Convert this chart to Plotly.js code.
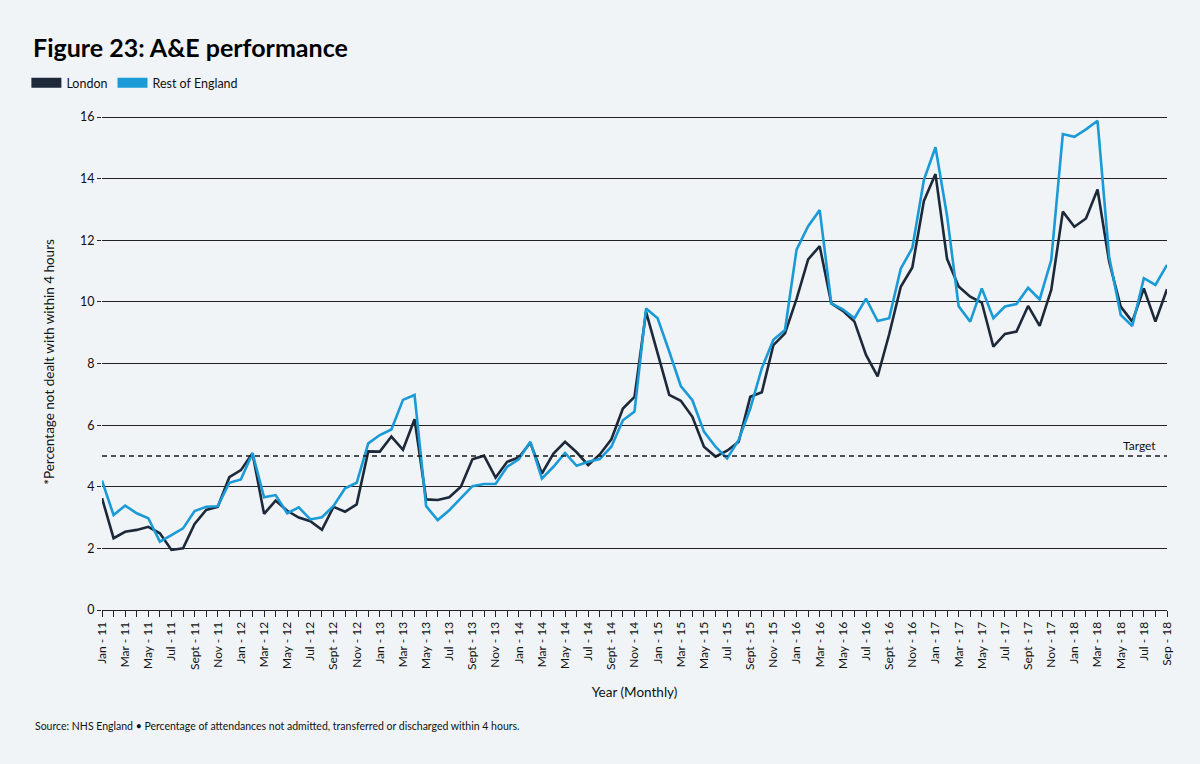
<!DOCTYPE html>
<html>
<head>
<meta charset="utf-8">
<script src="https://cdn.plot.ly/plotly-3.0.1.min.js"></script>
<style>
  html, body { margin: 0; padding: 0; background: #f0f4f7; }
  #chart { width: 1200px; height: 764px; }
</style>
</head>
<body>
<div id="chart"></div>
<script>
// Month names used for categories (Sept as in the source; final label is "Sep - 18")
var monthNames = ["Jan", "Feb", "Mar", "Apr", "May", "Jun", "Jul", "Aug", "Sept", "Oct", "Nov", "Dec"];
var startYear = 11;
var monthCount = 93; // Jan 2011 .. Sep 2018

var london = [
  3.63, 2.33, 2.54, 2.60, 2.70, 2.49, 1.95, 2.00, 2.79, 3.25, 3.35, 4.31,
  4.54, 5.09, 3.12, 3.55, 3.22, 3.00, 2.88, 2.60, 3.35, 3.19, 3.43, 5.15,
  5.14, 5.63, 5.20, 6.19, 3.59, 3.57, 3.66, 4.00, 4.89, 5.01, 4.30, 4.81,
  4.95, 5.43, 4.43, 5.08, 5.46, 5.12, 4.70, 5.05, 5.54, 6.54, 6.92, 9.68,
  8.33, 6.98, 6.79, 6.27, 5.30, 4.98, 5.17, 5.46, 6.92, 7.07, 8.60, 8.98,
  10.10, 11.38, 11.81, 9.95, 9.71, 9.36, 8.28, 7.58, 8.95, 10.49, 11.12, 13.28,
  14.15, 11.40, 10.50, 10.17, 9.98, 8.55, 8.96, 9.04, 9.87, 9.22, 10.39, 12.93,
  12.44, 12.71, 13.65, 11.31, 9.85, 9.36, 10.44, 9.36, 10.41
];

var restOfEngland = [
  4.20, 3.08, 3.39, 3.14, 2.98, 2.22, 2.43, 2.65, 3.21, 3.35, 3.37, 4.13,
  4.24, 5.09, 3.66, 3.73, 3.14, 3.33, 2.94, 3.01, 3.38, 3.95, 4.13, 5.41,
  5.68, 5.86, 6.82, 6.98, 3.37, 2.92, 3.24, 3.62, 4.02, 4.09, 4.09, 4.65,
  4.89, 5.46, 4.27, 4.65, 5.10, 4.68, 4.81, 4.90, 5.30, 6.16, 6.44, 9.79,
  9.47, 8.39, 7.27, 6.81, 5.79, 5.30, 4.92, 5.52, 6.54, 7.85, 8.77, 9.09,
  11.70, 12.46, 12.98, 9.95, 9.76, 9.47, 10.11, 9.38, 9.47, 11.08, 11.75, 13.96,
  15.02, 12.80, 9.86, 9.36, 10.44, 9.47, 9.85, 9.93, 10.46, 10.08, 11.36, 15.45,
  15.36, 15.60, 15.88, 11.47, 9.58, 9.22, 10.77, 10.55, 11.20
];

var targetValue = 5;
var yTicks = [0, 2, 4, 6, 8, 10, 12, 14, 16];

// Build month categories
var months = [];
for (var i = 0; i < monthCount; i++) {
  var m = i % 12;
  var yr = startYear + Math.floor(i / 12);
  var name = monthNames[m];
  if (i === monthCount - 1) name = "Sep";
  months.push(name + " - " + yr);
}
// Tick labels every second month, tick marks every month
var tickText = months.map(function (lbl, idx) { return idx % 2 === 0 ? lbl : ""; });

var FONT = "Lato, 'Noto Sans', sans-serif";
var LONDON_COLOR = "#1d2939";
var REST_COLOR = "#1a9ad6";

var traces = [
  {
    x: months, y: london, type: "scatter", mode: "lines", name: "London",
    line: { color: LONDON_COLOR, width: 2.6 }, showlegend: false, hoverinfo: "x+y"
  },
  {
    x: months, y: restOfEngland, type: "scatter", mode: "lines", name: "Rest of England",
    line: { color: REST_COLOR, width: 2.6 }, showlegend: false, hoverinfo: "x+y"
  },
  {
    x: [null], y: [null], type: "scatter", mode: "lines", name: "London",
    line: { color: LONDON_COLOR, width: 10 }, showlegend: true
  },
  {
    x: [null], y: [null], type: "scatter", mode: "lines", name: "Rest of England",
    line: { color: REST_COLOR, width: 10 }, showlegend: true
  }
];

var layout = {
  width: 1200,
  height: 764,
  paper_bgcolor: "#f0f4f7",
  plot_bgcolor: "#f0f4f7",
  font: { family: FONT, color: "#111111", size: 12 },
  margin: { l: 102, r: 33, t: 114, b: 154 },
  title: {
    text: "<b>Figure 23: A&amp;E performance</b>",
    font: { family: FONT, size: 25, color: "#000000" },
    xref: "container", x: 0.0275, xanchor: "left",
    yref: "container", y: 0.937, yanchor: "middle"
  },
  showlegend: true,
  legend: {
    orientation: "h",
    x: -0.071, xanchor: "left",
    y: 1.062, yanchor: "middle",
    font: { family: FONT, size: 12.5, color: "#111111" },
    bgcolor: "rgba(0,0,0,0)",
    itemwidth: 30,
    tracegroupgap: 0
  },
  xaxis: {
    type: "category",
    range: [0, monthCount - 1],
    tickmode: "array",
    tickvals: months,
    ticktext: tickText,
    tickangle: -90,
    ticks: "outside",
    ticklen: 6,
    tickwidth: 1,
    tickcolor: "#222222",
    showline: true,
    linecolor: "#222222",
    linewidth: 1,
    showgrid: false,
    zeroline: false,
    tickfont: { family: FONT, size: 12, color: "#111111" },
    title: {
      text: "Year (Monthly)",
      font: { family: FONT, size: 13.5, color: "#111111" },
      standoff: 18
    }
  },
  yaxis: {
    range: [0, 16.1],
    tickmode: "array",
    tickvals: yTicks,
    ticks: "outside",
    ticklen: 4,
    tickcolor: "#222222",
    showgrid: true,
    gridcolor: "#222222",
    gridwidth: 1,
    zeroline: false,
    showline: false,
    tickfont: { family: FONT, size: 12.5, color: "#111111" },
    title: {
      text: "*Percentage not dealt with within 4 hours",
      font: { family: FONT, size: 13.5, color: "#111111" },
      standoff: 22
    }
  },
  shapes: [
    {
      type: "line", xref: "paper", x0: 0, x1: 1, yref: "y", y0: targetValue, y1: targetValue,
      line: { color: "#1a1a1a", width: 1.4, dash: "5px,4px" }
    }
  ],
  annotations: [
    {
      text: "Target", xref: "paper", x: 0.992, xanchor: "right",
      yref: "y", y: targetValue, yanchor: "bottom", yshift: 1,
      showarrow: false, font: { family: FONT, size: 12, color: "#111111" }
    },
    {
      text: "Source: NHS England \u2022 Percentage of attendances not admitted, transferred or discharged within 4 hours.",
      xref: "paper", x: -0.065, xanchor: "left",
      yref: "paper", y: -0.234, yanchor: "middle",
      showarrow: false, font: { family: FONT, size: 10.5, color: "#111111" }
    }
  ]
};

Plotly.newPlot("chart", traces, layout, { displayModeBar: false, responsive: false });
</script>
</body>
</html>
